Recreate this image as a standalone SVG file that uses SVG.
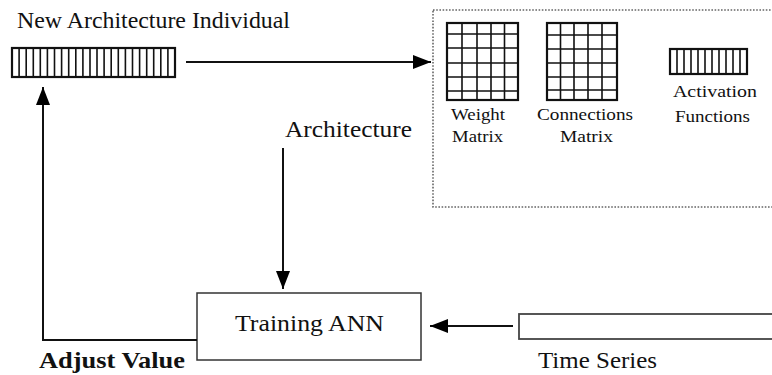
<svg xmlns="http://www.w3.org/2000/svg" width="772" height="375" viewBox="0 0 772 375">
<defs>
<marker id="ah" markerWidth="18" markerHeight="14" refX="18" refY="7" orient="auto" markerUnits="userSpaceOnUse">
<path d="M0,0 L18,7 L0,14 Z" fill="#000"/>
</marker>
<style>
.t{font-family:"Liberation Serif","Times New Roman",serif;font-size:24px;fill:#111}
.s{font-family:"Liberation Serif","Times New Roman",serif;font-size:16px;fill:#111}
.b{font-weight:bold}
.ln{stroke:#111;stroke-width:2;fill:none}
.box{fill:#fff;stroke:#333;stroke-width:1.5}
.grid{stroke:#111;stroke-width:1.6;fill:none}
.frame{fill:#fff;stroke:#111;stroke-width:2.2}
</style>
</defs>
<rect width="772" height="375" fill="#fff"/>

<g id="title"><text class="t" x="17" y="28" textLength="273" lengthAdjust="spacingAndGlyphs">New Architecture Individual</text></g>

<g id="individual">
<rect class="frame" x="12" y="48" width="163" height="29"/>
<path class="grid" d="M19.1 48V77M26.2 48V77M33.3 48V77M40.3 48V77M47.4 48V77M54.5 48V77M61.6 48V77M68.7 48V77M75.8 48V77M82.9 48V77M90 48V77M97 48V77M104.1 48V77M111.2 48V77M118.3 48V77M125.4 48V77M132.5 48V77M139.6 48V77M146.7 48V77M153.7 48V77M160.8 48V77M167.9 48V77"/>
</g>

<g id="architecture-box">
<rect x="433" y="10" width="345" height="197" fill="none" stroke="#666" stroke-width="1.6" stroke-dasharray="1.6 1.6"/>
<g id="weight-matrix">
<rect class="frame" x="447" y="23" width="71" height="77"/>
<path class="grid" d="M462 23V100M477 23V100M491 23V100M504.5 23V100M447 34H518M447 48H518M447 63H518M447 77H518M447 91H518"/>
<text class="s" x="451" y="120" textLength="54" lengthAdjust="spacingAndGlyphs">Weight</text>
<text class="s" x="452" y="142" textLength="51" lengthAdjust="spacingAndGlyphs">Matrix</text>
</g>
<g id="connections-matrix">
<rect class="frame" x="547" y="23" width="70" height="77"/>
<path class="grid" d="M560.5 23V100M574 23V100M588 23V100M602 23V100M547 35H617M547 49H617M547 63H617M547 77H617M547 90H617"/>
<text class="s" x="537" y="120" textLength="96" lengthAdjust="spacingAndGlyphs">Connections</text>
<text class="s" x="560" y="142" textLength="53" lengthAdjust="spacingAndGlyphs">Matrix</text>
</g>
<g id="activation-functions">
<rect class="frame" x="670" y="49" width="77" height="25"/>
<path class="grid" d="M677 49V74M684 49V74M691 49V74M698 49V74M705 49V74M712 49V74M719 49V74M726 49V74M733 49V74M740 49V74"/>
<text class="s" x="673" y="97" textLength="84" lengthAdjust="spacingAndGlyphs">Activation</text>
<text class="s" x="675" y="122" textLength="75" lengthAdjust="spacingAndGlyphs">Functions</text>
</g>
</g>

<g id="architecture-label"><text class="t" x="285" y="137" textLength="127" lengthAdjust="spacingAndGlyphs">Architecture</text></g>

<g id="training-ann">
<rect class="box" x="197" y="293" width="224" height="67"/>
<text class="t" x="235" y="331" textLength="149" lengthAdjust="spacingAndGlyphs">Training ANN</text>
</g>

<g id="time-series">
<rect x="519" y="314" width="260" height="25" fill="#fff" stroke="#444" stroke-width="1.8"/>
<text class="t" x="538" y="368" textLength="119" lengthAdjust="spacingAndGlyphs">Time Series</text>
</g>

<g id="adjust-label"><text class="t b" x="39" y="368" textLength="146" lengthAdjust="spacingAndGlyphs">Adjust Value</text></g>

<g id="connectors">
<path class="ln" d="M186 62H431" marker-end="url(#ah)"/>
<path class="ln" d="M283 148V289" marker-end="url(#ah)"/>
<path class="ln" d="M513 326H430" marker-end="url(#ah)"/>
<path class="ln" d="M197 340H43V87" marker-end="url(#ah)"/>
</g>
</svg>
